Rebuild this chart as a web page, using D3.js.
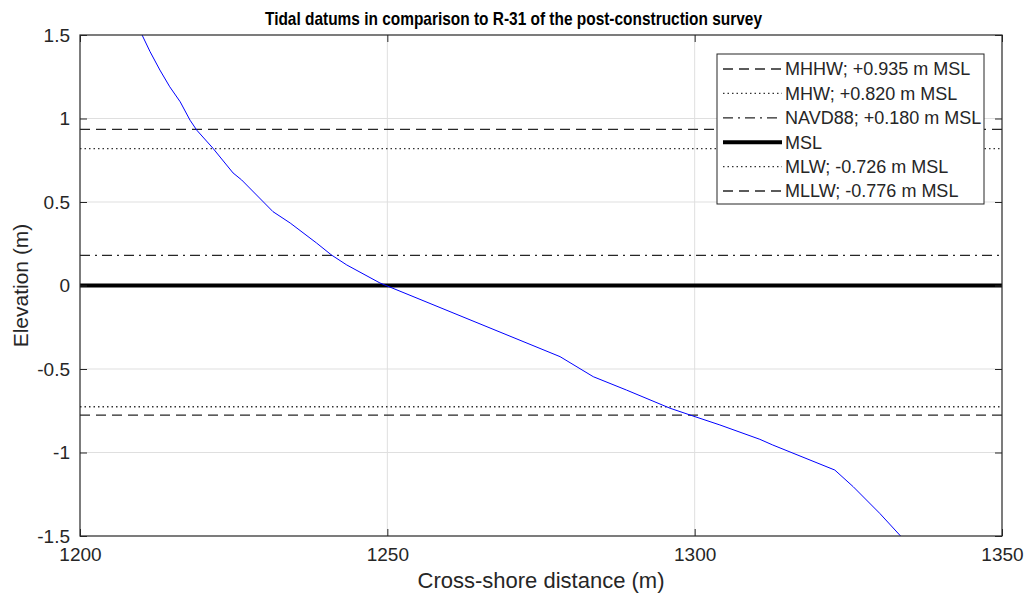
<!DOCTYPE html>
<html>
<head>
<meta charset="utf-8">
<script src="https://cdn.jsdelivr.net/npm/d3@7"></script>
<style>
  body { margin: 0; background: #fff; }
  text { font-family: "Liberation Sans", Arial, sans-serif; fill: #262626; }
</style>
</head>
<body>
<div id="chart"></div>
<script>
// profile R-31, post-construction survey
var profileX = [1210.1, 1211.4, 1213.0, 1214.6, 1216.3, 1217.9, 1219.0, 1221.6, 1224.9, 1226.3,
                1231.4, 1234.2, 1238.5, 1240.9, 1243.4, 1248.8, 1249.8, 1278.1, 1283.5,
                1288.9, 1296.0, 1299.7, 1304.1, 1310.6, 1312.7, 1322.8, 1325.8, 1330.1, 1333.5];
var profileY = [1.5, 1.40, 1.29, 1.19, 1.10, 0.99, 0.93, 0.823, 0.674, 0.632,
                0.442, 0.374, 0.254, 0.183, 0.123, 0.015, 0.0, -0.426, -0.546,
                -0.626, -0.735, -0.781, -0.835, -0.921, -0.955, -1.105, -1.205, -1.364, -1.5];

// tidal datums (m MSL)
var datumNames  = ["MHHW; +0.935 m MSL", "MHW; +0.820 m MSL", "NAVD88; +0.180 m MSL", "MSL", "MLW; -0.726 m MSL", "MLLW; -0.776 m MSL"];
var datumValues = [0.935, 0.820, 0.180, 0, -0.726, -0.776];
var datumStyles = ["dash", "dot", "dashdot", "solid", "dot", "dash"];

var xTicks = [1200, 1250, 1300, 1350];
var yTicks = [-1.5, -1, -0.5, 0, 0.5, 1, 1.5];

var W = 1027, H = 603;
var margin = { top: 35, left: 80, bottom: 67, right: 25 };
var width = W - margin.left - margin.right;
var height = H - margin.top - margin.bottom;

var svg = d3.select("#chart").append("svg")
    .attr("width", W)
    .attr("height", H);

var g = svg.append("g")
    .attr("transform", "translate(" + margin.left + "," + margin.top + ")");

var x = d3.scaleLinear().domain([1200, 1350]).range([0, width]);
var y = d3.scaleLinear().domain([-1.5, 1.5]).range([height, 0]);

var dashes = { dash: "10,6", dot: "1.5,3", dashdot: "10,5,2,5", solid: null };
var widths = { dash: 1.3, dot: 1.3, dashdot: 1.3, solid: 4 };
var colors = { dash: "#262626", dot: "#333", dashdot: "#262626", solid: "#000" };

// grid
g.append("g").selectAll("line")
    .data(xTicks.slice(1, -1))
    .enter().append("line")
    .attr("x1", function(d) { return x(d); })
    .attr("x2", function(d) { return x(d); })
    .attr("y1", 0).attr("y2", height)
    .attr("stroke", "#dfdfdf").attr("stroke-width", 1);

g.append("g").selectAll("line")
    .data(yTicks.slice(1, -1))
    .enter().append("line")
    .attr("y1", function(d) { return y(d); })
    .attr("y2", function(d) { return y(d); })
    .attr("x1", 0).attr("x2", width)
    .attr("stroke", "#dfdfdf").attr("stroke-width", 1);

g.append("clipPath").attr("id", "clip")
    .append("rect").attr("width", width).attr("height", height);

var plot = g.append("g").attr("clip-path", "url(#clip)");

// datum lines
plot.selectAll(".datum")
    .data(datumValues)
    .enter().append("line")
    .attr("class", "datum")
    .attr("x1", 0).attr("x2", width)
    .attr("y1", function(d) { return y(d); })
    .attr("y2", function(d) { return y(d); })
    .attr("stroke", function(d, i) { return colors[datumStyles[i]]; })
    .attr("stroke-width", function(d, i) { return widths[datumStyles[i]]; })
    .attr("stroke-dasharray", function(d, i) { return dashes[datumStyles[i]]; });

// profile
var profile = profileX.map(function(d, i) { return [d, profileY[i]]; });
plot.append("path")
    .datum(profile)
    .attr("fill", "none")
    .attr("stroke", "#0000ff")
    .attr("stroke-width", 1)
    .attr("d", d3.line().x(function(d) { return x(d[0]); }).y(function(d) { return y(d[1]); }));

// axes (box with inward ticks on all sides)
function styleAxis(a) {
    a.select(".domain").remove();
    a.selectAll("line").attr("stroke", "#262626");
    a.selectAll("text").attr("font-size", 19).attr("fill", "#262626");
}

g.append("g")
    .attr("transform", "translate(0," + height + ")")
    .call(d3.axisBottom(x).tickValues(xTicks).tickSizeInner(-7).tickSizeOuter(0).tickPadding(12).tickFormat(function(d) { return String(d); }))
    .call(styleAxis);

g.append("g")
    .call(d3.axisLeft(y).tickValues(yTicks).tickSizeInner(-7).tickSizeOuter(0).tickPadding(10).tickFormat(function(d) { return String(d); }))
    .call(styleAxis);

g.append("g")
    .call(d3.axisTop(x).tickValues(xTicks).tickSizeInner(-7).tickSizeOuter(0).tickFormat(""))
    .call(styleAxis);

g.append("g")
    .attr("transform", "translate(" + width + ",0)")
    .call(d3.axisRight(y).tickValues(yTicks).tickSizeInner(-7).tickSizeOuter(0).tickFormat(""))
    .call(styleAxis);

g.append("rect")
    .attr("width", width).attr("height", height)
    .attr("fill", "none").attr("stroke", "#262626").attr("stroke-width", 1.2);

// legend
var lg = g.append("g").attr("transform", "translate(637,19)");
lg.append("rect")
    .attr("width", 267).attr("height", 150)
    .attr("fill", "#fff").attr("stroke", "#262626").attr("stroke-width", 1);

var item = lg.selectAll(".item")
    .data(datumNames)
    .enter().append("g")
    .attr("class", "item")
    .attr("transform", function(d, i) { return "translate(0," + (15 + i * 24.4) + ")"; });

item.append("line")
    .attr("x1", 6).attr("x2", 65)
    .attr("stroke", function(d, i) { return colors[datumStyles[i]]; })
    .attr("stroke-width", function(d, i) { return widths[datumStyles[i]]; })
    .attr("stroke-dasharray", function(d, i) { return dashes[datumStyles[i]]; });

item.append("text")
    .attr("x", 68)
    .attr("dy", "0.35em")
    .attr("font-size", 18)
    .text(function(d) { return d; });

// labels
svg.append("text")
    .attr("x", 513.5)
    .attr("y", 25)
    .attr("text-anchor", "middle")
    .attr("font-size", 19)
    .attr("font-weight", "bold")
    .attr("textLength", 497)
    .attr("lengthAdjust", "spacingAndGlyphs")
    .style("font-family", "'Liberation Sans Narrow', 'Liberation Sans', Arial, sans-serif")
    .style("fill", "#000")
    .text("Tidal datums in comparison to R-31 of the post-construction survey");

svg.append("text")
    .attr("x", margin.left + width / 2)
    .attr("y", 588)
    .attr("text-anchor", "middle")
    .attr("font-size", 22)
    .text("Cross-shore distance (m)");

svg.append("text")
    .attr("transform", "translate(28," + (margin.top + height / 2) + ") rotate(-90)")
    .attr("text-anchor", "middle")
    .attr("font-size", 21)
    .text("Elevation (m)");
</script>
</body>
</html>
